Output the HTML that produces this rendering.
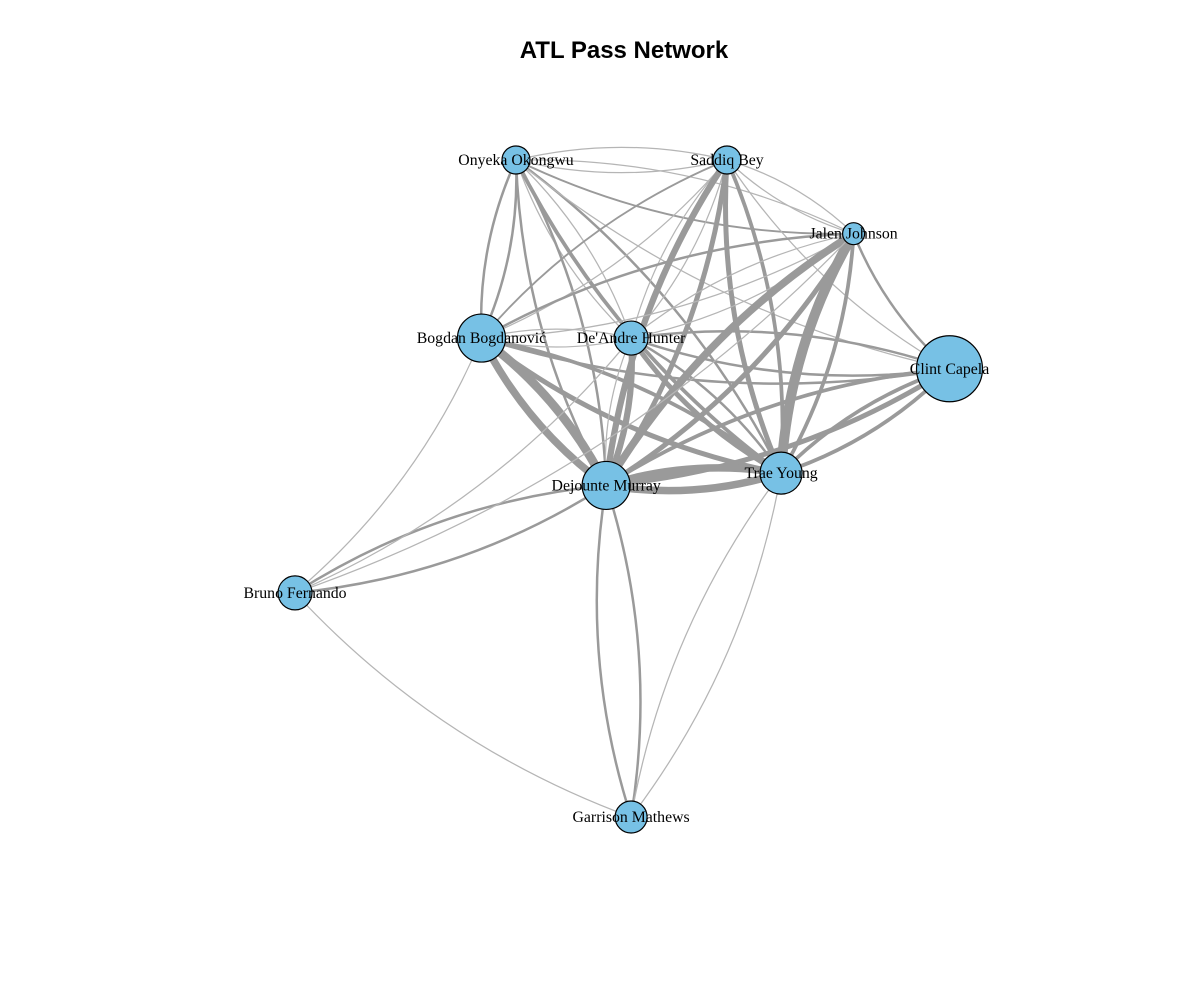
<!DOCTYPE html>
<html><head><meta charset="utf-8"><style>
html,body{margin:0;padding:0;background:#fff;width:1200px;height:1000px;overflow:hidden}
</style></head><body>
<svg id="chart" width="1200" height="1000" xmlns="http://www.w3.org/2000/svg">
<text x="624" y="58" text-anchor="middle" font-family="Liberation Sans, sans-serif" font-weight="bold" font-size="24">ATL Pass Network</text>
<g id="edges"></g>
<g id="nodes"></g>
</svg>
<script>
const players = ["Onyeka Okongwu","Saddiq Bey","Jalen Johnson","Bogdan Bogdanović","De'Andre Hunter","Clint Capela","Dejounte Murray","Trae Young","Bruno Fernando","Garrison Mathews"];
const layoutX = [0.12,0.67,1.0,0.03,0.42,1.25,0.355,0.811,-0.456,0.42];
const layoutY = [0.0,0.0,0.24,0.58,0.58,0.68,1.06,1.02,1.41,2.14];
const nodeSize = [14,14,11,24,17,33,24,21,17,16];
const edgeFrom = [0,1,0,2,0,3,0,4,0,6,0,7,0,1,2,1,3,1,4,1,6,1,7,1,2,3,2,4,2,6,2,7,2,3,4,3,6,3,7,3,8,4,6,4,7,4,5,6,7,6,5,6,8,6,9,7,5,7,9,8,8,8];
const edgeTo   = [1,0,2,0,3,0,4,0,6,0,7,0,5,2,1,3,1,4,1,6,1,7,1,5,3,2,4,2,6,2,7,2,5,4,3,6,3,7,3,5,3,6,4,7,4,5,4,7,6,5,6,8,6,9,6,5,7,9,7,9,4,2];
const edgeW    = [1,1,1.5,1,2,2,1,1,2,2,3,2,1,1,1,1.5,1,1,1,5,4,4,3,1,2,1,1,1,6,4,8,3,2,1,1,6,7,4,3,2,1,1,5,4,2,2,2,6,6,4,3,2,2,2,2,3,3,1,1,1,1,1];
const xScale = v => 516 + (v-0.12)*(727-516)/(0.67-0.12);
const yScale = v => 160 + v*(817-160)/2.14;
const NS="http://www.w3.org/2000/svg";
const eg=document.getElementById('edges'), ng=document.getElementById('nodes');
for(let i=0;i<edgeFrom.length;i++){
  const a=edgeFrom[i], b=edgeTo[i];
  const x1=xScale(layoutX[a]), y1=yScale(layoutY[a]), x2=xScale(layoutX[b]), y2=yScale(layoutY[b]);
  const mx=(x1+x2)/2, my=(y1+y2)/2, dx=x2-x1, dy=y2-y1;
  const c=0.12;
  const cx=mx - dy*c, cy=my + dx*c;
  const p=document.createElementNS(NS,'path');
  p.setAttribute('d',`M${x1},${y1} Q${cx},${cy} ${x2},${y2}`);
  p.setAttribute('fill','none');
  p.setAttribute('stroke', edgeW[i]<=1 ? '#b5b5b5' : '#9a9a9a');
  p.setAttribute('stroke-width', edgeW[i]*1.25);
  
  
  eg.appendChild(p);
}
for(let i=0;i<players.length;i++){
  const x=xScale(layoutX[i]), y=yScale(layoutY[i]);
  const c=document.createElementNS(NS,'circle');
  c.setAttribute('cx',x);c.setAttribute('cy',y);c.setAttribute('r',nodeSize[i]);
  c.setAttribute('fill','#77c1e5');c.setAttribute('stroke','#000');c.setAttribute('stroke-width','1.2');
  
  
  ng.appendChild(c);
}
for(let i=0;i<players.length;i++){
  const x=xScale(layoutX[i]), y=yScale(layoutY[i]);
  const t=document.createElementNS(NS,'text');
  t.setAttribute('x',x);t.setAttribute('y',y+5);t.setAttribute('text-anchor','middle');
  t.setAttribute('font-family','Liberation Serif, serif');t.setAttribute('font-size','15.8');
  t.textContent=players[i];
  
  
  ng.appendChild(t);
}
</script>
</body></html>
